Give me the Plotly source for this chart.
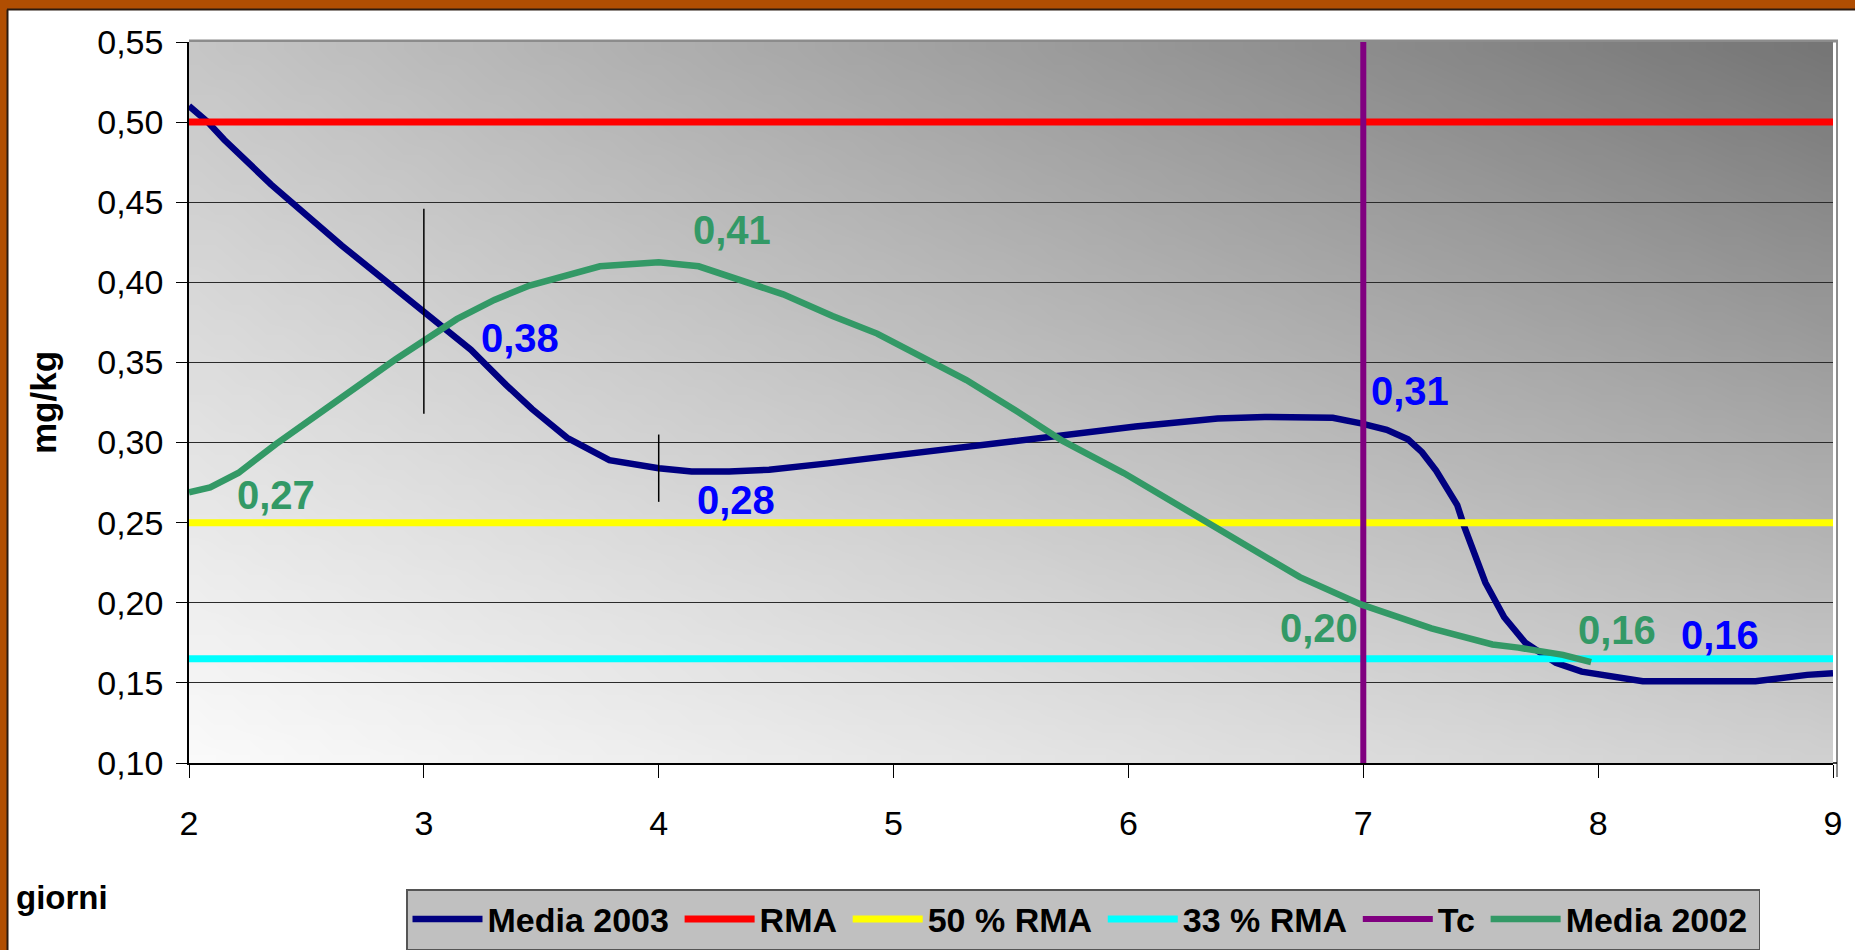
import base64, struct, zlib
import plotly.graph_objects as go

# ---------------- data ----------------
x_2003 = [2.0, 2.08, 2.15, 2.35, 2.65, 2.89, 3.0, 3.2, 3.35, 3.46, 3.61, 3.79, 4.0, 4.14, 4.3, 4.47,
          4.72, 5.02, 5.52, 6.03, 6.38, 6.58, 6.73, 6.87, 6.99, 7.10, 7.19, 7.25, 7.31, 7.40, 7.43,
          7.46, 7.52, 7.60, 7.69, 7.82, 7.93, 8.19, 8.67, 8.89, 9.0]
y_2003 = [0.510, 0.500, 0.489, 0.461, 0.423, 0.395, 0.382, 0.358, 0.336, 0.321, 0.303, 0.289, 0.284,
          0.282, 0.282, 0.283, 0.287, 0.292, 0.301, 0.310, 0.315, 0.316, 0.316, 0.3155, 0.312, 0.308,
          0.302, 0.294, 0.2825, 0.261, 0.2475, 0.235, 0.2125, 0.191, 0.175, 0.1625, 0.157, 0.151,
          0.151, 0.155, 0.156]

x_2002 = [2.0, 2.09, 2.21, 2.37, 2.62, 2.88, 3.14, 3.30, 3.45, 3.6, 3.75, 4.0, 4.17, 4.53, 4.74, 4.93,
          5.17, 5.31, 5.52, 5.72, 5.98, 6.23, 6.38, 6.53, 6.73, 6.99, 7.29, 7.55, 7.66, 7.85, 7.97]
y_2002 = [0.269, 0.272, 0.281, 0.299, 0.325, 0.352, 0.377, 0.389, 0.398, 0.404, 0.410, 0.4125, 0.410,
          0.3925, 0.379, 0.368, 0.350, 0.339, 0.320, 0.301, 0.281, 0.259, 0.246, 0.233, 0.216, 0.199,
          0.184, 0.174, 0.172, 0.1675, 0.163]

x_range = [2, 9]
rma = 0.50
rma_50 = 0.25
rma_33 = 0.165
tc_day = 7

err_x = [3, 4]
err_y = [0.382, 0.284]
err_size = [0.064, 0.021]

y_ticks = [0.10, 0.15, 0.20, 0.25, 0.30, 0.35, 0.40, 0.45, 0.50, 0.55]
y_tick_text = ["0,10", "0,15", "0,20", "0,25", "0,30", "0,35", "0,40", "0,45", "0,50", "0,55"]
x_ticks = [2, 3, 4, 5, 6, 7, 8, 9]

series_names = ["Media 2003", "RMA", "50 % RMA", "33 % RMA", "Tc", "Media 2002"]

lbl_2003_text = ["0,38", "0,28", "0,31", "0,16"]
lbl_2003_x = [3.41, 4.33, 7.20, 8.52]
lbl_2003_y = [0.365, 0.264, 0.332, 0.180]
lbl_2002_text = ["0,27", "0,41", "0,20", "0,16"]
lbl_2002_x = [2.37, 4.31, 6.81, 8.08]
lbl_2002_y = [0.267, 0.4325, 0.184, 0.183]

# ---------------- layout geometry ----------------
W, H = 1855, 950
L, R, T, B = 189, 22, 42, 187
PW, PH = W - L - R, H - T - B


def px(xp):
    return (xp - L) / PW


def py(yp):
    return (H - B - yp) / PH


# ---------------- background gradient (style only) ----------------
def make_png(w, h, corners):
    tl, tr, bl, br = corners
    rows = []
    for j in range(h):
        v = j / (h - 1)  # 0 top, 1 bottom
        row = bytearray([0])
        for i in range(w):
            u = i / (w - 1)
            top = tl + (tr - tl) * u
            bot = bl + (br - bl) * u
            g = int(round(top + (bot - top) * v))
            row += bytes([g, g, g])
        rows.append(bytes(row))
    raw = b"".join(rows)

    def chunk(t, d):
        return struct.pack(">I", len(d)) + t + d + struct.pack(">I", zlib.crc32(t + d) & 0xFFFFFFFF)

    return (b"\x89PNG\r\n\x1a\n" + chunk(b"IHDR", struct.pack(">IIBBBBB", w, h, 8, 2, 0, 0, 0))
            + chunk(b"IDAT", zlib.compress(raw)) + chunk(b"IEND", b""))


bg_png = make_png(96, 48, (198, 118, 250, 208))
bg_uri = "data:image/png;base64," + base64.b64encode(bg_png).decode()

# legend label = name plus a small trailing spacer (visually identical text)
def leg(name):
    return name + "\u2006"


# ---------------- figure ----------------
fig = go.Figure()

fig.add_trace(go.Scatter(x=x_2003, y=y_2003, mode="lines", name=leg(series_names[0]),
                         line=dict(color="#000080", width=6.5)))
fig.add_trace(go.Scatter(x=x_range, y=[rma, rma], mode="lines", name=leg(series_names[1]),
                         line=dict(color="#FF0000", width=7)))
fig.add_trace(go.Scatter(x=x_range, y=[rma_50, rma_50], mode="lines", name=leg(series_names[2]),
                         line=dict(color="#FFFF00", width=7)))
fig.add_trace(go.Scatter(x=x_range, y=[rma_33, rma_33], mode="lines", name=leg(series_names[3]),
                         line=dict(color="#00FFFF", width=7)))
fig.add_trace(go.Scatter(x=[tc_day, tc_day], y=[y_ticks[0], y_ticks[-1]], mode="lines",
                         name=leg(series_names[4]), line=dict(color="#800080", width=6)))
fig.add_trace(go.Scatter(x=x_2002, y=y_2002, mode="lines", name=leg(series_names[5]),
                         line=dict(color="#339966", width=6.5)))
fig.add_trace(go.Scatter(x=err_x, y=err_y, mode="markers", showlegend=False, hoverinfo="skip",
                         marker=dict(size=0.1, color="rgba(0,0,0,0)"),
                         error_y=dict(type="data", array=err_size, visible=True,
                                      color="black", thickness=1.5, width=0)))

lab_font = "Liberation Sans, Arial, sans-serif"
annotations = []
for t, xx, yy in zip(lbl_2003_text, lbl_2003_x, lbl_2003_y):
    annotations.append(dict(x=xx, y=yy, xref="x", yref="y", text="<b>%s</b>" % t, showarrow=False,
                            xanchor="center", yanchor="middle",
                            font=dict(family=lab_font, size=40, color="#0000FF")))
for t, xx, yy in zip(lbl_2002_text, lbl_2002_x, lbl_2002_y):
    annotations.append(dict(x=xx, y=yy, xref="x", yref="y", text="<b>%s</b>" % t, showarrow=False,
                            xanchor="center", yanchor="middle",
                            font=dict(family=lab_font, size=40, color="#339966")))
annotations.append(dict(x=px(43), y=py(403), xref="paper", yref="paper", text="<b>mg/kg</b>",
                        textangle=-90, showarrow=False, xanchor="center", yanchor="middle",
                        font=dict(family=lab_font, size=35, color="black")))
annotations.append(dict(x=px(14), y=py(898), xref="paper", yref="paper", text="<b>giorni</b>",
                        xanchor="left", yanchor="middle", showarrow=False,
                        font=dict(family=lab_font, size=33, color="black")))

orange = "#B04E02"
dark = "#2a1a10"
shapes = [
    # orange frame (top and left)
    dict(type="rect", xref="paper", yref="paper", x0=px(-5), x1=px(W + 5), y0=py(9), y1=py(-5),
         fillcolor=orange, line=dict(width=0), layer="above"),
    dict(type="rect", xref="paper", yref="paper", x0=px(-5), x1=px(7), y0=py(H + 5), y1=py(-5),
         fillcolor=orange, line=dict(width=0), layer="above"),
    dict(type="line", xref="paper", yref="paper", x0=px(7), x1=px(W + 5), y0=py(9.5), y1=py(9.5),
         line=dict(color=dark, width=2), layer="above"),
    dict(type="line", xref="paper", yref="paper", x0=px(7.5), x1=px(7.5), y0=py(9.5), y1=py(H + 5),
         line=dict(color=dark, width=2), layer="above"),
    # plot-area frame (top and right, grey)
    dict(type="line", xref="paper", yref="paper", x0=0, x1=px(1838), y0=py(41), y1=py(41),
         line=dict(color="#8c8c8c", width=3), layer="below"),
    dict(type="line", xref="paper", yref="paper", x0=px(1837), x1=px(1837), y0=py(40), y1=py(777),
         line=dict(color="#8c8c8c", width=2), layer="below"),
    dict(type="line", xref="paper", yref="paper", x0=1, x1=px(1837), y0=0, y1=0,
         line=dict(color="black", width=1.5), layer="below"),
]

fig.update_layout(
    width=W, height=H,
    margin=dict(l=L, r=R, t=T, b=B, pad=0, autoexpand=False),
    paper_bgcolor="white",
    plot_bgcolor="rgba(0,0,0,0)",
    font=dict(family=lab_font, color="black"),
    showlegend=True,
    legend=dict(orientation="h", x=px(406), y=py(889), xanchor="left", yanchor="top",
                bgcolor="#C0C0C0", bordercolor="#555555", borderwidth=1.5,
                font=dict(family=lab_font, size=34, color="black", weight="bold"),
                itemwidth=70, tracegroupgap=0, traceorder="normal"),
    images=[dict(source=bg_uri, xref="x", yref="y", x=x_range[0], y=y_ticks[-1],
                 sizex=x_range[1] - x_range[0], sizey=y_ticks[-1] - y_ticks[0],
                 sizing="stretch", layer="below", xanchor="left", yanchor="top")],
    annotations=annotations,
    shapes=shapes,
)

fig.update_xaxes(range=x_range, tickmode="array", tickvals=x_ticks, showgrid=False,
                 zeroline=False, showline=True, linecolor="black", linewidth=1.5,
                 ticks="outside", ticklen=13, tickwidth=1, tickcolor="black",
                 tickfont=dict(size=34, family=lab_font, color="black"),
                 ticklabelstandoff=16)
fig.update_yaxes(range=[y_ticks[0], y_ticks[-1]], tickmode="array", tickvals=y_ticks,
                 ticktext=y_tick_text, showgrid=True, gridcolor="#2a2a2a", gridwidth=1.3,
                 zeroline=False, showline=True, linecolor="black", linewidth=1.5,
                 ticks="outside", ticklen=11, tickwidth=1.3, tickcolor="black",
                 tickfont=dict(size=34, family=lab_font, color="black"),
                 ticklabelstandoff=6)

fig.write_html("out.html", post_script="document.body.style.margin='0';",
               config={"displayModeBar": False})
